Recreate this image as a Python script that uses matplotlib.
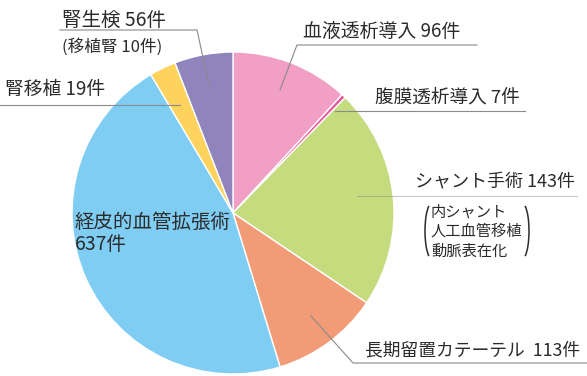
import matplotlib.pyplot as plt
from matplotlib.patches import Arc

plt.rcParams['font.family'] = ['Noto Sans CJK JP', 'DejaVu Sans']

labels = ["血液透析導入", "腹膜透析導入", "シャント手術", "長期留置カテーテル",
          "経皮的血管拡張術", "腎移植", "腎生検"]
counts = [96, 7, 143, 113, 637, 19, 56]
# wedge sizes as drawn in the picture (degrees), not proportional to counts
wedge_deg = [42.7, 1.5, 79.7, 39.1, 166.3, 9.6, 21.1]
colors = ["#f29fc5", "#e8579b", "#c4dc7e", "#f29c77", "#7fcdf3", "#fdd35e", "#9084bd"]
shunt_detail = ["内シャント", "人工血管移植", "動脈表在化"]
transplant_kidney = 10

W, H = 587, 376
TXT = "#2b2b2b"
LINE = "#8a8a8a"


def Y(y):
    # picture coords (top=0) -> axes coords
    return H - y


fig = plt.figure(figsize=(W / 100, H / 100), dpi=100)
ax = fig.add_axes([0, 0, 1, 1])

ax.pie(wedge_deg, colors=colors, startangle=90, counterclock=False,
       center=(233, Y(213)), radius=161,
       wedgeprops=dict(edgecolor="white", linewidth=1))
ax.set_xlim(0, W)
ax.set_ylim(0, H)
ax.set_aspect("equal")
ax.axis("off")

# 腎生検
ax.text(62, Y(20), f"{labels[6]} {counts[6]}件", fontsize=14, color=TXT, va="center")
ax.text(62, Y(47), f"(移植腎 {transplant_kidney}件)", fontsize=12, color=TXT, va="center")
ax.plot([60, 197, 209], [Y(30), Y(30), Y(85)], color=LINE, lw=0.8)

# 腎移植
ax.text(5, Y(89), f"{labels[5]} {counts[5]}件", fontsize=13.5, color=TXT, va="center")
ax.plot([0, 180], [Y(105), Y(105)], color=LINE, lw=0.8)

# 血液透析導入
ax.text(303, Y(31), f"{labels[0]} {counts[0]}件", fontsize=13.6, color=TXT, va="center")
ax.plot([477, 297, 280], [Y(45), Y(45), Y(90)], color=LINE, lw=0.8)

# 腹膜透析導入
ax.text(375, Y(97), f"{labels[1]} {counts[1]}件", fontsize=13.4, color=TXT, va="center")
ax.plot([335, 525], [Y(111), Y(111)], color=LINE, lw=0.8)

# シャント手術
ax.text(415, Y(182), f"{labels[2]} {counts[2]}件", fontsize=13, color=TXT, va="center")
ax.plot([357, 577], [Y(196), Y(196)], color=LINE, lw=0.6, alpha=0.6)
for i, s in enumerate(shunt_detail):
    ax.text(431, Y(212 + 19.5 * i), s, fontsize=11, color=TXT, va="center")
ax.add_patch(Arc((432, Y(231)), 14, 56, theta1=97, theta2=263, color=TXT, lw=1.1))
ax.add_patch(Arc((522, Y(231)), 14, 56, theta1=-83, theta2=83, color=TXT, lw=1.1))

# 長期留置カテーテル
ax.text(365, Y(350), f"{labels[3]}  {counts[3]}件", fontsize=12.8, color=TXT, va="center")
ax.plot([311, 353, 587], [Y(316), Y(363), Y(363)], color=LINE, lw=0.8)

# 経皮的血管拡張術
ax.text(75, Y(222), labels[4], fontsize=14, color=TXT, va="center")
ax.text(75, Y(245), f"{counts[4]}件", fontsize=14, color=TXT, va="center")

fig.savefig("out.png", dpi=100)
